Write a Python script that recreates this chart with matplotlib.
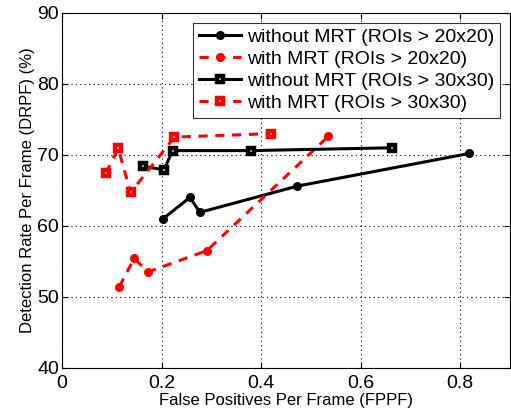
import matplotlib.pyplot as plt

plt.rcParams['font.family'] = ['Liberation Sans', 'DejaVu Sans']

# without MRT (ROIs > 20x20)
fppf_no_20 = [0.203, 0.257, 0.277, 0.473, 0.818]
drpf_no_20 = [61.0, 64.0, 61.9, 65.6, 70.2]
# with MRT (ROIs > 20x20)
fppf_mrt_20 = [0.115, 0.145, 0.173, 0.291, 0.535]
drpf_mrt_20 = [51.4, 55.4, 53.5, 56.5, 72.6]
# without MRT (ROIs > 30x30)
fppf_no_30 = [0.162, 0.205, 0.222, 0.380, 0.662]
drpf_no_30 = [68.4, 67.9, 70.6, 70.6, 71.0]
# with MRT (ROIs > 30x30)
fppf_mrt_30 = [0.088, 0.113, 0.138, 0.226, 0.419]
drpf_mrt_30 = [67.4, 70.9, 64.7, 72.5, 73.0]

xticks = [0, 0.2, 0.4, 0.6, 0.8]
yticks = [40, 50, 60, 70, 80, 90]

fig = plt.figure(figsize=(5.11, 4.15), dpi=100)
ax = fig.add_axes([62 / 511, (415 - 367.7) / 415, 448 / 511, 354.7 / 415])

dash = (0, (3, 2.5))
ax.plot(fppf_no_20, drpf_no_20, color='black', lw=2.2, marker='o', ms=5.5,
        label='without MRT (ROIs > 20x20)')
ax.plot(fppf_mrt_20, drpf_mrt_20, color='red', lw=2.2, ls=dash,
        marker='o', ms=5.5, label='with MRT (ROIs > 20x20)')
ax.plot(fppf_no_30, drpf_no_30, color='black', lw=2.2, marker='s', ms=4,
        mew=3.2, mfc='white', label='without MRT (ROIs > 30x30)')
ax.plot(fppf_mrt_30, drpf_mrt_30, color='red', lw=2.2, ls=dash,
        marker='s', ms=4, mew=3.2, mfc='white', label='with MRT (ROIs > 30x30)')

ax.set_xlim(0, 0.9)
ax.set_ylim(40, 90)
ax.set_xticks(xticks)
ax.set_xticklabels(['0', '0.2', '0.4', '0.6', '0.8'])
ax.set_yticks(yticks)
ax.tick_params(direction='in', top=True, right=True, labelsize=14, length=4)
ax.tick_params(axis='x', pad=5)
ax.tick_params(axis='y', pad=2)
ax.grid(True, color='black', ls=(0, (1, 3)), lw=0.8)
ax.set_xlabel('False Positives Per Frame (FPPF)', fontsize=12, labelpad=1)
ax.set_ylabel('Detection Rate Per Frame (DRPF) (%)', fontsize=12, labelpad=2)

leg = ax.legend(loc='upper right', fontsize=14, frameon=True, fancybox=False,
                edgecolor='black', handlelength=2.2, borderaxespad=0.5,
                labelspacing=0.22, handletextpad=0.3, borderpad=0.3)
leg.get_frame().set_linewidth(0.8)

fig.savefig('out.png', dpi=100)
